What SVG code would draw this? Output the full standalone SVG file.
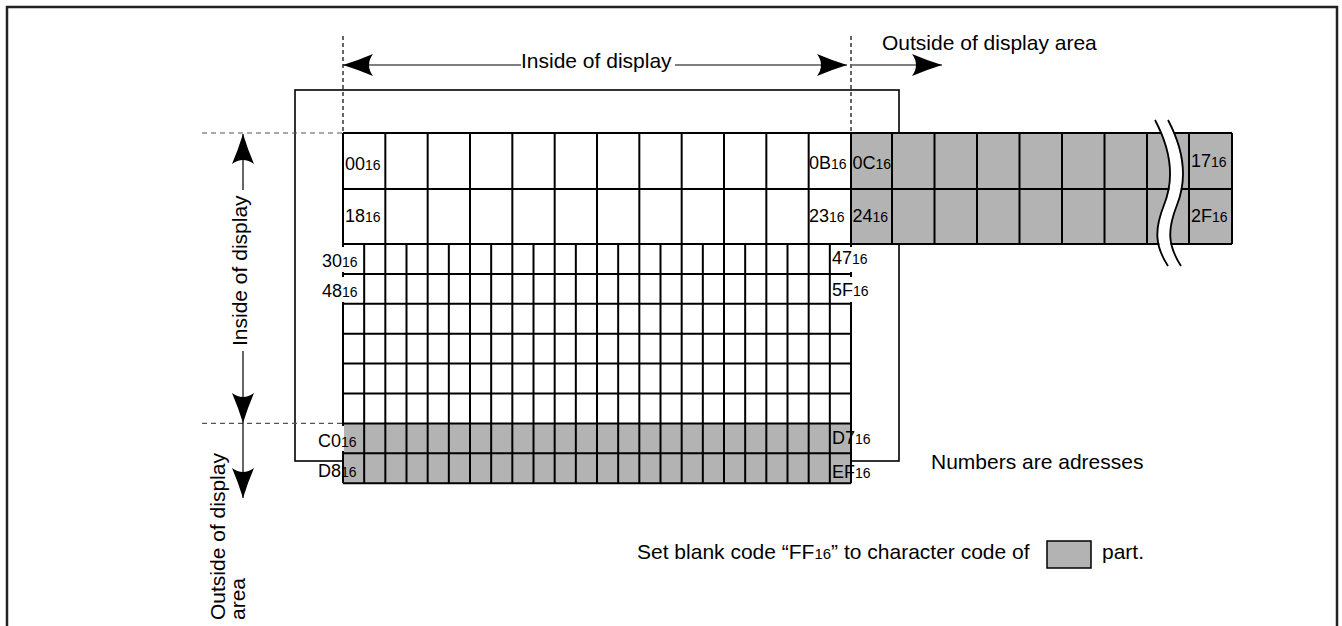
<svg xmlns="http://www.w3.org/2000/svg" width="1342" height="626" viewBox="0 0 1342 626">
<style>
text{font-family:"Liberation Sans",Arial,Helvetica,sans-serif;fill:#000}
.cap{font-size:21px}
.lb{font-size:18px}
.sub{font-size:14px}
.grid{fill:none;stroke:#000;stroke-width:2}
.gray{fill:#b3b3b3}
.wb{fill:#fff}
.dash{fill:none;stroke:#555;stroke-width:1.2;stroke-dasharray:5 4}
.vdash{fill:none;stroke:#000;stroke-width:1.2;stroke-dasharray:4 3}
.shaft{fill:none;stroke:#000;stroke-width:1.2}
</style>
<defs>
<marker id="ah" markerUnits="userSpaceOnUse" markerWidth="32" markerHeight="24" refX="30" refY="12" orient="auto" overflow="visible">
<path d="M30,12 Q14,7 0,1 Q8,12 0,23 Q14,17 30,12 Z" fill="#000"/>
</marker>
</defs>
<rect x="0" y="0" width="1342" height="626" fill="#fff"/>
<path d="M7,640 V7 H1337 V640" fill="none" stroke="#222" stroke-width="2.5"/>

<g id="display-frame">
<rect x="295" y="90" width="604" height="371" fill="none" stroke="#000" stroke-width="1.6"/>
</g>

<g id="grid-right-outside">
<rect class="gray" x="851" y="133" width="381" height="111"/>
<path class="grid" d="M851,133H1232M851,189H1232M851,244H1232M851,133V244M892,133V244M934.5,133V244M977,133V244M1019.5,133V244M1062,133V244M1104.5,133V244M1147,133V244M1189,133V244M1232,133V244"/>
<path d="M1161.5,120 C1178.5,152 1180.5,180 1170.5,205 S1161.5,246 1174.5,266" fill="none" stroke="#fff" stroke-width="11"/>
<path d="M1155,120 C1172,152 1174,180 1164,205 S1155,246 1168,266 M1168,120 C1185,152 1187,180 1177,205 S1168,246 1181,266" fill="none" stroke="#000" stroke-width="1.8"/>
</g>

<g id="grid-bottom-outside">
<rect class="gray" x="343" y="423.4" width="508" height="59.8"/>
</g>

<g id="grid-top">
<path class="grid" d="M343,133H851M343,189H851M343,244H851M343,133V244M385.33,133V244M427.67,133V244M470,133V244M512.33,133V244M554.67,133V244M597,133V244M639.33,133V244M681.67,133V244M724,133V244M766.33,133V244M808.67,133V244M851,133V244"/>
</g>

<g id="grid-small">
<path class="grid" d="M343,273.9H851M343,303.8H851M343,333.7H851M343,363.6H851M343,393.5H851M343,423.4H851M343,453.3H851M343,483.2H851
M343,244V483.2M364.17,244V483.2M385.33,244V483.2M406.5,244V483.2M427.67,244V483.2M448.83,244V483.2M470,244V483.2M491.17,244V483.2M512.33,244V483.2M533.5,244V483.2M554.67,244V483.2M575.83,244V483.2M597,244V483.2M618.17,244V483.2M639.33,244V483.2M660.5,244V483.2M681.67,244V483.2M702.83,244V483.2M724,244V483.2M745.17,244V483.2M766.33,244V483.2M787.5,244V483.2M808.67,244V483.2M829.83,244V483.2M851,244V483.2"/>
</g>

<g id="labels">
<rect class="wb" x="316" y="247" width="42" height="25"/>
<rect class="wb" x="316" y="277" width="42" height="25"/>
<rect class="wb" x="831.5" y="247" width="40" height="25"/>
<rect class="wb" x="831.5" y="277" width="40" height="25"/>
<rect class="wb" x="314" y="426" width="30" height="25"/>
<text class="lb" x="345" y="170">00<tspan class="sub">16</tspan></text>
<text class="lb" x="345" y="222">18<tspan class="sub">16</tspan></text>
<text class="lb" x="809" y="169">0B<tspan class="sub">16</tspan></text>
<text class="lb" x="809" y="222">23<tspan class="sub">16</tspan></text>
<text class="lb" x="852.5" y="169">0C<tspan class="sub">16</tspan></text>
<text class="lb" x="852.5" y="222">24<tspan class="sub">16</tspan></text>
<text class="lb" x="1191" y="167">17<tspan class="sub">16</tspan></text>
<text class="lb" x="1191" y="222">2F<tspan class="sub">16</tspan></text>
<text class="lb" x="322" y="267">30<tspan class="sub">16</tspan></text>
<text class="lb" x="322" y="297">48<tspan class="sub">16</tspan></text>
<text class="lb" x="832" y="264">47<tspan class="sub">16</tspan></text>
<text class="lb" x="832" y="296">5F<tspan class="sub">16</tspan></text>
<text class="lb" x="318" y="447">C0<tspan class="sub">16</tspan></text>
<text class="lb" x="318" y="477">D8<tspan class="sub">16</tspan></text>
<text class="lb" x="832" y="444">D7<tspan class="sub">16</tspan></text>
<text class="lb" x="832" y="478">EF<tspan class="sub">16</tspan></text>
</g>

<g id="guides">
<path class="vdash" d="M343,36V133M851,36V133"/>
<path class="dash" d="M202,133H343M202,423.4H343"/>
</g>

<g id="connectors">
<line class="shaft" x1="521" y1="65" x2="343" y2="65" marker-end="url(#ah)"/>
<line class="shaft" x1="675" y1="65" x2="847" y2="65" marker-end="url(#ah)"/>
<line class="shaft" x1="852" y1="65" x2="942" y2="65" marker-end="url(#ah)"/>
<line class="shaft" x1="243" y1="190" x2="243" y2="134" marker-end="url(#ah)"/>
<line class="shaft" x1="243" y1="351" x2="243" y2="423" marker-end="url(#ah)"/>
<line class="shaft" x1="243" y1="423" x2="243" y2="498" marker-end="url(#ah)"/>
</g>

<g id="captions">
<text class="cap" x="521" y="68">Inside of display</text>
<text class="cap" x="882" y="50">Outside of display area</text>
<text class="cap" transform="translate(247,346) rotate(-90)">Inside of display</text>
<text class="cap" transform="translate(225,620) rotate(-90)">Outside of display</text>
<text class="cap" transform="translate(245,620) rotate(-90)">area</text>
</g>

<g id="legend">
<text class="cap" x="931" y="469">Numbers are adresses</text>
<text class="cap" x="637" y="559">Set blank code “FF<tspan class="sub" style="font-size:15px">16</tspan>” to character code of</text>
<rect x="1047" y="541" width="44" height="27" fill="#b3b3b3" stroke="#000" stroke-width="1.5"/>
<text class="cap" x="1102" y="559">part.</text>
</g>
</svg>
